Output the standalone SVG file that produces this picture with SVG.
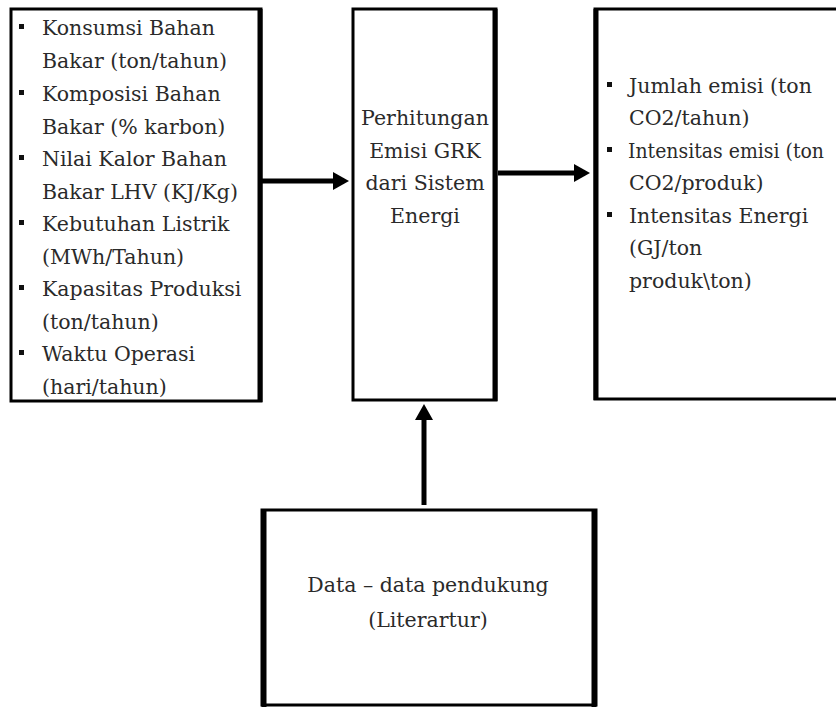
<svg xmlns="http://www.w3.org/2000/svg" width="836" height="709" viewBox="0 0 836 709">
<defs>
<style>
.box{fill:#fff;stroke:#000;stroke-width:3}
.edge{fill:none;stroke:#000;stroke-width:5}
.t{font-family:"DejaVu Serif","Liberation Serif",serif;font-size:20.5px;fill:#2a2a2a}
.c{text-anchor:middle}
.b{fill:#111}
</style>
<marker id="ah" markerWidth="4" markerHeight="4" refX="2.2" refY="2" orient="auto" markerUnits="strokeWidth">
<path d="M0,0.2 L3.2,2 L0,3.8 Z" fill="#000"/>
</marker>
</defs>
<rect width="836" height="709" fill="#fff"/>
<g id="connectors">
<line class="edge" x1="262" y1="181" x2="344" y2="181" marker-end="url(#ah)"/>
<line class="edge" x1="498" y1="173" x2="585" y2="173" marker-end="url(#ah)"/>
<line class="edge" x1="424" y1="505" x2="424" y2="409" marker-end="url(#ah)"/>
</g>
<g id="inputs">
<rect class="box" x="11" y="9" width="250" height="392"/>
<line x1="260" y1="9" x2="260" y2="402" stroke="#000" stroke-width="5"/>
<g class="b">
<rect x="19" y="24" width="5" height="5"/><rect x="19" y="90" width="5" height="5"/><rect x="19" y="155" width="5" height="5"/><rect x="19" y="220" width="5" height="5"/><rect x="19" y="285" width="5" height="5"/><rect x="19" y="350" width="5" height="5"/>
</g>
<text class="t" x="42" y="35">Konsumsi Bahan</text>
<text class="t" x="42" y="68">Bakar (ton/tahun)</text>
<text class="t" x="42" y="101">Komposisi Bahan</text>
<text class="t" x="42" y="134">Bakar (% karbon)</text>
<text class="t" x="42" y="166">Nilai Kalor Bahan</text>
<text class="t" x="42" y="199">Bakar LHV (KJ/Kg)</text>
<text class="t" x="42" y="231">Kebutuhan Listrik</text>
<text class="t" x="42" y="264">(MWh/Tahun)</text>
<text class="t" x="42" y="296">Kapasitas Produksi</text>
<text class="t" x="42" y="329">(ton/tahun)</text>
<text class="t" x="42" y="361">Waktu Operasi</text>
<text class="t" x="42" y="394">(hari/tahun)</text>
</g>
<g id="process">
<rect class="box" x="353" y="9" width="143" height="391"/>
<line x1="495" y1="9" x2="495" y2="401" stroke="#000" stroke-width="5"/>
<text class="t c" x="425" y="125">Perhitungan</text>
<text class="t c" x="425" y="158">Emisi GRK</text>
<text class="t c" x="425" y="190">dari Sistem</text>
<text class="t c" x="425" y="223">Energi</text>
</g>
<g id="outputs">
<rect class="box" x="595" y="9" width="260" height="390"/>
<line x1="596" y1="9" x2="596" y2="400" stroke="#000" stroke-width="5"/>
<g class="b">
<rect x="607" y="82" width="5" height="5"/><rect x="607" y="147" width="5" height="5"/><rect x="607" y="212" width="5" height="5"/>
</g>
<text class="t" x="629" y="93">Jumlah emisi (ton</text>
<text class="t" x="629" y="125">CO2/tahun)</text>
<text class="t" x="628" y="158" style="font-size:19.5px" textLength="196" lengthAdjust="spacingAndGlyphs">Intensitas emisi (ton</text>
<text class="t" x="629" y="190">CO2/produk)</text>
<text class="t" x="629" y="223">Intensitas Energi</text>
<text class="t" x="629" y="255">(GJ/ton</text>
<text class="t" x="629" y="288">produk\ton)</text>
</g>
<g id="support">
<rect class="box" x="262" y="510" width="334" height="195"/>
<line x1="264" y1="510" x2="264" y2="707" stroke="#000" stroke-width="5"/>
<line x1="594" y1="510" x2="594" y2="707" stroke="#000" stroke-width="5"/>
<text class="t c" x="428" y="592">Data – data pendukung</text>
<text class="t c" x="428" y="627">(Literartur)</text>
</g>
</svg>
